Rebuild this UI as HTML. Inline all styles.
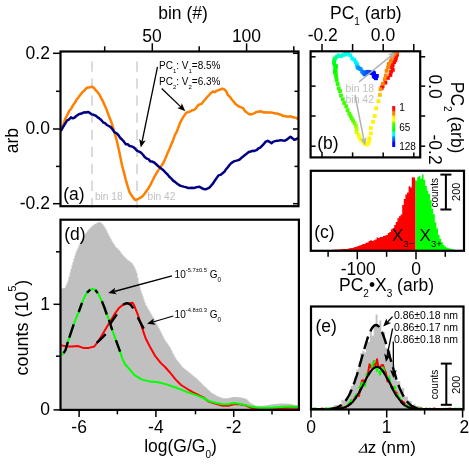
<!DOCTYPE html>
<html><head><meta charset="utf-8"><title>figure</title>
<style>html,body{margin:0;padding:0;background:#fff;}svg{display:block;will-change:transform;}</style>
</head><body>
<svg width="469" height="465" viewBox="0 0 469 465">
<rect x="0" y="0" width="469" height="465" fill="#ffffff"/>
<clipPath id="ca"><rect x="60.5" y="51.5" width="238.0" height="154.7"/></clipPath>
<line x1="92.0" y1="61.5" x2="92.0" y2="212" stroke="#c8c8c8" stroke-width="1.3" stroke-dasharray="10.2 6.85"/>
<line x1="137.0" y1="61.5" x2="137.0" y2="212" stroke="#c8c8c8" stroke-width="1.3" stroke-dasharray="10.2 6.85"/>
<g clip-path="url(#ca)">
<polyline points="60.5,131.1 61.5,128.6 63.4,124.5 65.3,118.7 67.2,115.2 69.1,111.1 71.0,109.0 72.8,105.6 74.7,103.1 76.6,99.6 78.5,97.3 80.4,94.8 82.3,92.3 84.2,90.6 86.1,88.4 88.0,87.4 89.9,87.4 91.8,86.7 93.7,87.6 95.5,90.0 97.4,91.8 99.3,94.4 101.2,98.1 103.1,101.7 105.0,105.9 106.9,110.3 108.8,115.8 110.7,120.4 112.6,126.0 114.5,132.5 116.4,139.4 118.3,147.2 120.1,155.8 122.0,165.3 123.9,172.3 125.8,179.8 127.7,186.4 129.6,192.4 131.5,195.2 133.4,198.1 135.3,200.0 137.2,199.3 139.1,198.4 141.0,197.4 142.8,196.0 144.7,193.5 146.6,190.7 148.5,188.2 150.4,184.9 152.3,181.0 154.2,177.2 156.1,173.9 158.0,170.9 159.9,167.9 161.8,165.2 163.7,162.3 165.6,158.1 167.4,153.5 169.3,149.3 171.2,144.8 173.1,140.2 175.0,134.8 176.9,131.4 178.8,126.2 180.7,121.6 182.6,118.2 184.5,115.2 186.4,112.7 188.3,112.1 190.1,111.5 192.0,110.3 193.9,110.0 195.8,108.6 197.7,105.6 199.6,104.4 201.5,104.0 203.4,101.5 205.3,99.2 207.2,97.0 209.1,95.0 211.0,92.9 212.9,91.4 214.7,92.2 216.6,90.9 218.5,90.2 220.4,89.4 222.3,88.8 224.2,89.3 226.1,91.2 228.0,95.1 229.9,96.7 231.8,99.5 233.7,101.6 235.6,104.0 237.4,105.4 239.3,106.6 241.2,107.3 243.1,108.2 245.0,111.0 246.9,112.6 248.8,114.0 250.7,114.5 252.6,113.9 254.5,113.2 256.4,111.9 258.3,111.7 260.2,111.3 262.0,111.7 263.9,112.5 265.8,112.2 267.7,112.5 269.6,112.4 271.5,112.6 273.4,112.9 275.3,113.5 277.2,113.4 279.1,114.3 281.0,114.7 282.9,115.9 284.7,116.1 286.6,116.4 288.5,116.7 290.4,116.3 292.3,117.0 294.2,117.5 296.1,117.8 298.0,119.2 298.3,118.9" fill="none" stroke="#ff8000" stroke-width="2.5" stroke-linejoin="round"/>
<polyline points="60.5,130.9 61.5,129.9 63.4,126.5 65.3,123.4 67.2,120.4 69.1,119.4 71.0,117.4 72.8,118.3 74.7,117.5 76.6,115.8 78.5,114.4 80.4,113.8 82.3,113.2 84.2,112.3 86.1,112.5 88.0,112.0 89.9,112.9 91.8,114.4 93.7,114.8 95.5,115.6 97.4,117.1 99.3,118.4 101.2,120.0 103.1,122.3 105.0,123.2 106.9,125.0 108.8,126.0 110.7,127.1 112.6,129.4 114.5,132.4 116.4,133.2 118.3,135.0 120.1,137.8 122.0,139.5 123.9,141.6 125.8,144.3 127.7,144.3 129.6,146.0 131.5,146.4 133.4,147.2 135.3,148.8 137.2,150.8 139.1,151.7 141.0,152.6 142.8,154.5 144.7,157.1 146.6,158.6 148.5,159.1 150.4,161.5 152.3,161.6 154.2,162.5 156.1,164.2 158.0,166.0 159.9,167.5 161.8,169.0 163.7,170.5 165.6,172.6 167.4,174.3 169.3,176.7 171.2,178.4 173.1,180.6 175.0,181.9 176.9,183.5 178.8,184.8 180.7,185.9 182.6,186.4 184.5,186.9 186.4,187.3 188.3,188.1 190.1,188.0 192.0,187.7 193.9,188.1 195.8,187.3 197.7,187.1 199.6,186.8 201.5,188.0 203.4,188.9 205.3,189.2 207.2,188.7 209.1,187.9 211.0,185.8 212.9,183.6 214.7,180.8 216.6,178.1 218.5,175.4 220.4,174.9 222.3,173.5 224.2,171.9 226.1,169.3 228.0,167.0 229.9,164.4 231.8,162.8 233.7,161.4 235.6,160.9 237.4,160.4 239.3,159.8 241.2,158.1 243.1,156.6 245.0,154.9 246.9,153.5 248.8,152.0 250.7,151.5 252.6,150.8 254.5,150.9 256.4,150.2 258.3,148.5 260.2,147.7 262.0,145.8 263.9,143.8 265.8,141.6 267.7,140.8 269.6,141.8 271.5,143.2 273.4,141.6 275.3,141.1 277.2,140.7 279.1,140.5 281.0,140.1 282.9,140.5 284.7,140.7 286.6,139.8 288.5,138.2 290.4,136.8 292.3,138.1 294.2,139.7 296.1,139.2 298.0,138.0 298.3,138.1" fill="none" stroke="#000080" stroke-width="2.5" stroke-linejoin="round"/>
</g>
<rect x="60.5" y="51.5" width="238.0" height="154.7" fill="none" stroke="#000" stroke-width="2.2"/>
<line x1="53.0" y1="53.3" x2="60.5" y2="53.3" stroke="#000" stroke-width="1.5"/>
<line x1="293.0" y1="53.3" x2="298.5" y2="53.3" stroke="#000" stroke-width="1.5"/>
<line x1="56.0" y1="91.3" x2="60.5" y2="91.3" stroke="#000" stroke-width="1.5"/>
<line x1="294.5" y1="91.3" x2="298.5" y2="91.3" stroke="#000" stroke-width="1.5"/>
<line x1="53.0" y1="129" x2="60.5" y2="129" stroke="#000" stroke-width="1.5"/>
<line x1="293.0" y1="129" x2="298.5" y2="129" stroke="#000" stroke-width="1.5"/>
<line x1="56.0" y1="166.4" x2="60.5" y2="166.4" stroke="#000" stroke-width="1.5"/>
<line x1="294.5" y1="166.4" x2="298.5" y2="166.4" stroke="#000" stroke-width="1.5"/>
<line x1="53.0" y1="203.7" x2="60.5" y2="203.7" stroke="#000" stroke-width="1.5"/>
<line x1="293.0" y1="203.7" x2="298.5" y2="203.7" stroke="#000" stroke-width="1.5"/>
<line x1="104.7" y1="46.3" x2="104.7" y2="51.5" stroke="#000" stroke-width="1.5"/>
<line x1="152.3" y1="43.3" x2="152.3" y2="51.5" stroke="#000" stroke-width="1.5"/>
<line x1="199.2" y1="46.3" x2="199.2" y2="51.5" stroke="#000" stroke-width="1.5"/>
<line x1="246.6" y1="43.3" x2="246.6" y2="51.5" stroke="#000" stroke-width="1.5"/>
<line x1="293.8" y1="46.3" x2="293.8" y2="51.5" stroke="#000" stroke-width="1.5"/>
<text x="49.9" y="58.6" font-size="17.5" text-anchor="end" fill="#000" font-family="Liberation Sans, sans-serif" >0.2</text>
<text x="49.9" y="134.1" font-size="17.5" text-anchor="end" fill="#000" font-family="Liberation Sans, sans-serif" >0.0</text>
<text x="49.9" y="209" font-size="17.5" text-anchor="end" fill="#000" font-family="Liberation Sans, sans-serif" >-0.2</text>
<text x="152" y="41.5" font-size="17.5" text-anchor="middle" fill="#000" font-family="Liberation Sans, sans-serif" >50</text>
<text x="246.5" y="41.5" font-size="17.5" text-anchor="middle" fill="#000" font-family="Liberation Sans, sans-serif" >100</text>
<text x="183" y="18.7" font-size="17.5" text-anchor="middle" fill="#000" font-family="Liberation Sans, sans-serif" >bin (#)</text>
<text transform="translate(18.4,140.7) rotate(-90)" font-size="17.5" text-anchor="middle" font-family="Liberation Sans, sans-serif">arb</text>
<text x="63.3" y="199.6" font-size="17.5" text-anchor="start" fill="#000" font-family="Liberation Sans, sans-serif" >(a)</text>
<text x="94.9" y="199.6" font-size="10.2" text-anchor="start" fill="#c0c0c0" font-family="Liberation Sans, sans-serif" >bin 18</text>
<text x="147.6" y="199.6" font-size="10.2" text-anchor="start" fill="#c0c0c0" font-family="Liberation Sans, sans-serif" >bin 42</text>
<text x="159" y="69" font-size="10" text-anchor="start" fill="#000" font-family="Liberation Sans, sans-serif" >PC<tspan font-size="6" dy="4">1</tspan><tspan dy="-4" font-size="1">&#8203;</tspan>: V<tspan font-size="6" dy="4">1</tspan><tspan dy="-4" font-size="1">&#8203;</tspan>=8.5%</text>
<text x="159" y="85.1" font-size="10" text-anchor="start" fill="#000" font-family="Liberation Sans, sans-serif" >PC<tspan font-size="6" dy="4">2</tspan><tspan dy="-4" font-size="1">&#8203;</tspan>: V<tspan font-size="6" dy="4">2</tspan><tspan dy="-4" font-size="1">&#8203;</tspan>=6.3%</text>
<line x1="157.5" y1="66.9" x2="142.1" y2="141.5" stroke="#000" stroke-width="1.3"/>
<polygon points="140.8,147.6 139.2,139.1 142.1,141.5 145.7,140.4" fill="#000"/>
<line x1="161.7" y1="88.5" x2="180.8" y2="106.9" stroke="#000" stroke-width="1.3"/>
<polygon points="185.3,111.2 177.2,108.0 180.8,106.9 181.8,103.3" fill="#000"/>
<clipPath id="cb"><rect x="310.6" y="51.3" width="109.59999999999997" height="106.10000000000001"/></clipPath>
<g clip-path="url(#cb)">
<rect x="379.8" y="86.1" width="3.8" height="3.8" fill="#ff0000"/>
<rect x="380.7" y="84.1" width="3.8" height="3.8" fill="#ff0100"/>
<rect x="383.5" y="80.7" width="3.8" height="3.8" fill="#ff0200"/>
<rect x="386.0" y="76.0" width="3.8" height="3.8" fill="#ff0300"/>
<rect x="388.5" y="73.1" width="3.8" height="3.8" fill="#ff0400"/>
<rect x="389.2" y="69.8" width="3.8" height="3.8" fill="#ff0600"/>
<rect x="390.9" y="68.0" width="3.8" height="3.8" fill="#ff0700"/>
<rect x="390.1" y="65.2" width="3.8" height="3.8" fill="#ff0800"/>
<rect x="390.8" y="63.2" width="3.8" height="3.8" fill="#ff0900"/>
<rect x="392.2" y="60.3" width="3.8" height="3.8" fill="#ff0a00"/>
<rect x="393.4" y="58.4" width="3.8" height="3.8" fill="#ff0c00"/>
<rect x="393.9" y="56.3" width="3.8" height="3.8" fill="#ff0d00"/>
<rect x="394.3" y="54.3" width="3.8" height="3.8" fill="#ff0e00"/>
<rect x="395.1" y="52.9" width="3.8" height="3.8" fill="#ff0f00"/>
<rect x="394.9" y="51.1" width="3.8" height="3.8" fill="#ff1200"/>
<rect x="395.3" y="50.3" width="3.8" height="3.8" fill="#ff3a00"/>
<rect x="394.6" y="50.3" width="3.8" height="3.8" fill="#ff6200"/>
<rect x="393.4" y="49.7" width="3.8" height="3.8" fill="#ff7700"/>
<rect x="393.0" y="50.5" width="3.8" height="3.8" fill="#ff7900"/>
<rect x="392.4" y="52.4" width="3.8" height="3.8" fill="#ff7a00"/>
<rect x="391.1" y="53.9" width="3.8" height="3.8" fill="#ff7b00"/>
<rect x="390.1" y="56.0" width="3.8" height="3.8" fill="#ff7d00"/>
<rect x="388.8" y="59.1" width="3.8" height="3.8" fill="#ff7e00"/>
<rect x="386.9" y="62.0" width="3.8" height="3.8" fill="#ff8000"/>
<rect x="386.1" y="65.5" width="3.8" height="3.8" fill="#ff8100"/>
<rect x="384.7" y="69.0" width="3.8" height="3.8" fill="#ff8200"/>
<rect x="383.9" y="73.6" width="3.8" height="3.8" fill="#ff8400"/>
<rect x="382.9" y="77.4" width="3.8" height="3.8" fill="#ff8500"/>
<rect x="381.0" y="81.9" width="3.8" height="3.8" fill="#ff8700"/>
<rect x="378.6" y="87.3" width="3.8" height="3.8" fill="#ff9900"/>
<rect x="378.0" y="93.0" width="3.8" height="3.8" fill="#ffc100"/>
<rect x="376.5" y="99.3" width="3.8" height="3.8" fill="#ffe900"/>
<rect x="374.2" y="106.4" width="3.8" height="3.8" fill="#ffef00"/>
<rect x="372.8" y="114.2" width="3.8" height="3.8" fill="#fff100"/>
<rect x="371.1" y="119.9" width="3.8" height="3.8" fill="#fff200"/>
<rect x="368.9" y="126.1" width="3.8" height="3.8" fill="#fff400"/>
<rect x="368.9" y="131.5" width="3.8" height="3.8" fill="#fff500"/>
<rect x="367.5" y="136.4" width="3.8" height="3.8" fill="#fff700"/>
<rect x="367.2" y="138.7" width="3.8" height="3.8" fill="#fff900"/>
<rect x="366.5" y="141.0" width="3.8" height="3.8" fill="#fffa00"/>
<rect x="365.2" y="142.7" width="3.8" height="3.8" fill="#fffc00"/>
<rect x="363.5" y="142.1" width="3.8" height="3.8" fill="#fffd00"/>
<rect x="362.8" y="141.3" width="3.8" height="3.8" fill="#feff00"/>
<rect x="362.1" y="140.5" width="3.8" height="3.8" fill="#fcff00"/>
<rect x="360.5" y="139.4" width="3.8" height="3.8" fill="#fbff00"/>
<rect x="358.4" y="137.3" width="3.8" height="3.8" fill="#f9ff00"/>
<rect x="357.1" y="135.0" width="3.8" height="3.8" fill="#f8ff00"/>
<rect x="356.7" y="132.9" width="3.8" height="3.8" fill="#f6ff00"/>
<rect x="354.8" y="130.2" width="3.8" height="3.8" fill="#d6ff00"/>
<rect x="354.7" y="127.1" width="3.8" height="3.8" fill="#b6ff00"/>
<rect x="354.0" y="123.9" width="3.8" height="3.8" fill="#96ff00"/>
<rect x="352.6" y="121.2" width="3.8" height="3.8" fill="#77ff00"/>
<rect x="351.1" y="118.7" width="3.8" height="3.8" fill="#57ff00"/>
<rect x="349.8" y="116.3" width="3.8" height="3.8" fill="#51ff00"/>
<rect x="348.6" y="114.1" width="3.8" height="3.8" fill="#4cff00"/>
<rect x="347.4" y="111.7" width="3.8" height="3.8" fill="#48ff00"/>
<rect x="345.7" y="108.3" width="3.8" height="3.8" fill="#44ff00"/>
<rect x="344.3" y="104.5" width="3.8" height="3.8" fill="#40ff00"/>
<rect x="342.3" y="101.1" width="3.8" height="3.8" fill="#3cff00"/>
<rect x="340.9" y="97.3" width="3.8" height="3.8" fill="#38ff00"/>
<rect x="339.1" y="93.6" width="3.8" height="3.8" fill="#33ff00"/>
<rect x="338.1" y="89.2" width="3.8" height="3.8" fill="#2fff00"/>
<rect x="336.8" y="86.4" width="3.8" height="3.8" fill="#2bff00"/>
<rect x="335.8" y="82.1" width="3.8" height="3.8" fill="#27ff00"/>
<rect x="334.8" y="78.3" width="3.8" height="3.8" fill="#23ff00"/>
<rect x="334.4" y="75.6" width="3.8" height="3.8" fill="#1eff00"/>
<rect x="334.0" y="73.1" width="3.8" height="3.8" fill="#1aff00"/>
<rect x="333.7" y="71.0" width="3.8" height="3.8" fill="#16ff00"/>
<rect x="333.0" y="70.5" width="3.8" height="3.8" fill="#12ff00"/>
<rect x="333.1" y="70.1" width="3.8" height="3.8" fill="#0eff00"/>
<rect x="333.4" y="69.0" width="3.8" height="3.8" fill="#09ff00"/>
<rect x="333.0" y="68.8" width="3.8" height="3.8" fill="#05ff00"/>
<rect x="333.6" y="67.7" width="3.8" height="3.8" fill="#01ff00"/>
<rect x="333.8" y="65.2" width="3.8" height="3.8" fill="#00ff02"/>
<rect x="334.1" y="64.3" width="3.8" height="3.8" fill="#00ff06"/>
<rect x="333.1" y="63.9" width="3.8" height="3.8" fill="#00ff0a"/>
<rect x="332.3" y="61.9" width="3.8" height="3.8" fill="#00ff0f"/>
<rect x="332.1" y="59.9" width="3.8" height="3.8" fill="#00ff13"/>
<rect x="332.5" y="58.1" width="3.8" height="3.8" fill="#00ff2f"/>
<rect x="333.1" y="56.5" width="3.8" height="3.8" fill="#00ff62"/>
<rect x="334.9" y="54.8" width="3.8" height="3.8" fill="#00ff94"/>
<rect x="336.7" y="53.5" width="3.8" height="3.8" fill="#00ffc6"/>
<rect x="339.0" y="54.2" width="3.8" height="3.8" fill="#00ffd8"/>
<rect x="341.2" y="53.1" width="3.8" height="3.8" fill="#00ffde"/>
<rect x="343.4" y="52.6" width="3.8" height="3.8" fill="#00ffe3"/>
<rect x="343.8" y="51.9" width="3.8" height="3.8" fill="#00ffe9"/>
<rect x="344.9" y="51.4" width="3.8" height="3.8" fill="#00ffee"/>
<rect x="346.3" y="51.8" width="3.8" height="3.8" fill="#00fff4"/>
<rect x="348.4" y="53.4" width="3.8" height="3.8" fill="#00fff9"/>
<rect x="350.3" y="56.6" width="3.8" height="3.8" fill="#00feff"/>
<rect x="352.4" y="57.9" width="3.8" height="3.8" fill="#00f8ff"/>
<rect x="353.8" y="60.2" width="3.8" height="3.8" fill="#00f3ff"/>
<rect x="354.9" y="61.9" width="3.8" height="3.8" fill="#00edff"/>
<rect x="355.3" y="63.9" width="3.8" height="3.8" fill="#00e0ff"/>
<rect x="355.7" y="65.1" width="3.8" height="3.8" fill="#00beff"/>
<rect x="356.2" y="66.0" width="3.8" height="3.8" fill="#009dff"/>
<rect x="357.6" y="66.6" width="3.8" height="3.8" fill="#0090ff"/>
<rect x="358.8" y="67.3" width="3.8" height="3.8" fill="#008aff"/>
<rect x="360.2" y="69.6" width="3.8" height="3.8" fill="#0084ff"/>
<rect x="361.4" y="71.0" width="3.8" height="3.8" fill="#007dff"/>
<rect x="362.6" y="72.1" width="3.8" height="3.8" fill="#0077ff"/>
<rect x="363.0" y="72.5" width="3.8" height="3.8" fill="#0071ff"/>
<rect x="363.5" y="72.0" width="3.8" height="3.8" fill="#006bff"/>
<rect x="363.5" y="71.5" width="3.8" height="3.8" fill="#0065ff"/>
<rect x="364.0" y="70.3" width="3.8" height="3.8" fill="#005fff"/>
<rect x="365.5" y="70.2" width="3.8" height="3.8" fill="#0059ff"/>
<rect x="366.1" y="69.9" width="3.8" height="3.8" fill="#0053ff"/>
<rect x="367.6" y="70.2" width="3.8" height="3.8" fill="#004dff"/>
<rect x="369.3" y="70.9" width="3.8" height="3.8" fill="#0047ff"/>
<rect x="371.1" y="70.6" width="3.8" height="3.8" fill="#0041ff"/>
<rect x="371.7" y="70.9" width="3.8" height="3.8" fill="#002eff"/>
<rect x="370.9" y="70.8" width="3.8" height="3.8" fill="#0019ff"/>
<rect x="369.8" y="71.0" width="3.8" height="3.8" fill="#0008ff"/>
<rect x="371.1" y="71.2" width="3.8" height="3.8" fill="#0007ff"/>
<rect x="371.5" y="71.7" width="3.8" height="3.8" fill="#0007ff"/>
<rect x="371.8" y="71.6" width="3.8" height="3.8" fill="#0006ff"/>
<rect x="372.0" y="72.3" width="3.8" height="3.8" fill="#0006ff"/>
<rect x="372.3" y="72.7" width="3.8" height="3.8" fill="#0005ff"/>
<rect x="372.0" y="73.7" width="3.8" height="3.8" fill="#0005ff"/>
<rect x="371.8" y="73.8" width="3.8" height="3.8" fill="#0004ff"/>
<rect x="372.6" y="74.1" width="3.8" height="3.8" fill="#0003ff"/>
<rect x="373.9" y="74.3" width="3.8" height="3.8" fill="#0003ff"/>
<rect x="375.0" y="74.0" width="3.8" height="3.8" fill="#0002ff"/>
<rect x="373.9" y="74.5" width="3.8" height="3.8" fill="#0002ff"/>
<rect x="372.6" y="75.0" width="3.8" height="3.8" fill="#0001ff"/>
<rect x="373.0" y="75.2" width="3.8" height="3.8" fill="#0001ff"/>
<rect x="374.0" y="76.4" width="3.8" height="3.8" fill="#0000ff"/>
<rect x="374.0" y="76.2" width="3.8" height="3.8" fill="#0000ff"/>
</g>
<defs><linearGradient id="cbar" x1="0" y1="0" x2="0" y2="1">
<stop offset="0.0" stop-color="#ff0000"/>
<stop offset="0.02" stop-color="#ff0300"/>
<stop offset="0.04" stop-color="#ff0600"/>
<stop offset="0.06" stop-color="#ff0900"/>
<stop offset="0.08" stop-color="#ff0c00"/>
<stop offset="0.1" stop-color="#ff0f00"/>
<stop offset="0.12" stop-color="#ff4300"/>
<stop offset="0.14" stop-color="#ff7800"/>
<stop offset="0.16" stop-color="#ff7c00"/>
<stop offset="0.18" stop-color="#ff7f00"/>
<stop offset="0.2" stop-color="#ff8300"/>
<stop offset="0.22" stop-color="#ff8700"/>
<stop offset="0.24" stop-color="#ffd400"/>
<stop offset="0.26" stop-color="#fff100"/>
<stop offset="0.28" stop-color="#fff500"/>
<stop offset="0.3" stop-color="#fff900"/>
<stop offset="0.32" stop-color="#fffd00"/>
<stop offset="0.34" stop-color="#fcff00"/>
<stop offset="0.36" stop-color="#f8ff00"/>
<stop offset="0.38" stop-color="#ceff00"/>
<stop offset="0.4" stop-color="#7dff00"/>
<stop offset="0.42" stop-color="#4fff00"/>
<stop offset="0.44" stop-color="#45ff00"/>
<stop offset="0.46" stop-color="#3aff00"/>
<stop offset="0.48" stop-color="#2fff00"/>
<stop offset="0.5" stop-color="#25ff00"/>
<stop offset="0.52" stop-color="#1aff00"/>
<stop offset="0.54" stop-color="#0fff00"/>
<stop offset="0.56" stop-color="#05ff00"/>
<stop offset="0.58" stop-color="#00ff05"/>
<stop offset="0.6" stop-color="#00ff0f"/>
<stop offset="0.62" stop-color="#00ff55"/>
<stop offset="0.64" stop-color="#00ffd4"/>
<stop offset="0.66" stop-color="#00ffe2"/>
<stop offset="0.68" stop-color="#00fff0"/>
<stop offset="0.7" stop-color="#00ffff"/>
<stop offset="0.72" stop-color="#00f0ff"/>
<stop offset="0.74" stop-color="#00bfff"/>
<stop offset="0.76" stop-color="#008dff"/>
<stop offset="0.78" stop-color="#007dff"/>
<stop offset="0.8" stop-color="#006eff"/>
<stop offset="0.82" stop-color="#005eff"/>
<stop offset="0.84" stop-color="#004fff"/>
<stop offset="0.86" stop-color="#003fff"/>
<stop offset="0.88" stop-color="#0008ff"/>
<stop offset="0.9" stop-color="#0007ff"/>
<stop offset="0.92" stop-color="#0005ff"/>
<stop offset="0.94" stop-color="#0004ff"/>
<stop offset="0.96" stop-color="#0002ff"/>
<stop offset="0.98" stop-color="#0001ff"/>
<stop offset="1.0" stop-color="#0000ff"/>
</linearGradient></defs>
<rect x="392.2" y="106.1" width="3" height="40.9" fill="url(#cbar)"/>
<text x="399.2" y="110.5" font-size="10" text-anchor="start" fill="#000" font-family="Liberation Sans, sans-serif" >1</text>
<text x="399.2" y="130.9" font-size="10" text-anchor="start" fill="#000" font-family="Liberation Sans, sans-serif" >65</text>
<text x="399.2" y="150.4" font-size="10" text-anchor="start" fill="#000" font-family="Liberation Sans, sans-serif" >128</text>
<text x="345.6" y="92" font-size="10.4" text-anchor="start" fill="#c0c0c0" font-family="Liberation Sans, sans-serif" >bin 18</text>
<text x="345.6" y="102.9" font-size="10.4" text-anchor="start" fill="#c0c0c0" font-family="Liberation Sans, sans-serif" >bin 42</text>
<line x1="359.0" y1="82.0" x2="391.2" y2="55.7" stroke="#b2b2b2" stroke-width="1.5"/>
<polygon points="396.0,51.8 391.9,59.4 391.2,55.7 387.7,54.3" fill="#b2b2b2"/>
<line x1="355.0" y1="95.0" x2="363.8" y2="139.4" stroke="#b2b2b2" stroke-width="1.5"/>
<polygon points="365.0,145.5 360.2,138.3 363.8,139.4 366.7,137.0" fill="#b2b2b2"/>
<rect x="310.6" y="51.3" width="109.59999999999997" height="106.10000000000001" fill="none" stroke="#000" stroke-width="2.2"/>
<line x1="310.6" y1="56.8" x2="315.6" y2="56.8" stroke="#000" stroke-width="1.5"/>
<line x1="420.2" y1="56.8" x2="425.2" y2="56.8" stroke="#000" stroke-width="1.5"/>
<line x1="310.6" y1="86.1" x2="315.6" y2="86.1" stroke="#000" stroke-width="1.5"/>
<line x1="420.2" y1="86.1" x2="425.2" y2="86.1" stroke="#000" stroke-width="1.5"/>
<line x1="310.6" y1="116" x2="315.6" y2="116" stroke="#000" stroke-width="1.5"/>
<line x1="420.2" y1="116" x2="425.2" y2="116" stroke="#000" stroke-width="1.5"/>
<line x1="310.6" y1="146.2" x2="315.6" y2="146.2" stroke="#000" stroke-width="1.5"/>
<line x1="420.2" y1="146.2" x2="425.2" y2="146.2" stroke="#000" stroke-width="1.5"/>
<line x1="322" y1="44.0" x2="322" y2="51.3" stroke="#000" stroke-width="1.5"/>
<line x1="322" y1="152.4" x2="322" y2="157.4" stroke="#000" stroke-width="1.5"/>
<line x1="352.6" y1="44.0" x2="352.6" y2="51.3" stroke="#000" stroke-width="1.5"/>
<line x1="352.6" y1="152.4" x2="352.6" y2="157.4" stroke="#000" stroke-width="1.5"/>
<line x1="383.2" y1="44.0" x2="383.2" y2="51.3" stroke="#000" stroke-width="1.5"/>
<line x1="383.2" y1="152.4" x2="383.2" y2="157.4" stroke="#000" stroke-width="1.5"/>
<line x1="413.8" y1="44.0" x2="413.8" y2="51.3" stroke="#000" stroke-width="1.5"/>
<line x1="413.8" y1="152.4" x2="413.8" y2="157.4" stroke="#000" stroke-width="1.5"/>
<text x="337.8" y="41.2" font-size="17.5" text-anchor="end" fill="#000" font-family="Liberation Sans, sans-serif" >-0.2</text>
<text x="383" y="41.2" font-size="17.5" text-anchor="middle" fill="#000" font-family="Liberation Sans, sans-serif" >0.0</text>
<text x="330" y="18.5" font-size="17.5" text-anchor="start" fill="#000" font-family="Liberation Sans, sans-serif" >PC<tspan font-size="10" dy="6.3">1</tspan><tspan dy="-6.3" font-size="1">&#8203;</tspan> (arb)</text>
<text x="317.3" y="149" font-size="17.5" text-anchor="start" fill="#000" font-family="Liberation Sans, sans-serif" >(b)</text>
<text transform="translate(428.5,86.6) rotate(90)" font-size="17.5" text-anchor="middle" font-family="Liberation Sans, sans-serif">0.0</text>
<text transform="translate(428.5,149.6) rotate(90)" font-size="17.5" text-anchor="middle" font-family="Liberation Sans, sans-serif">-0.2</text>
<text transform="translate(450.5,117.6) rotate(90)" font-size="17.5" text-anchor="middle" font-family="Liberation Sans, sans-serif">PC<tspan font-size="10" dy="6.8">2</tspan><tspan dy="-6.8" font-size="1">&#8203;</tspan> (arb)</text>
<polygon points="312.6,250.8 312.6,250.8 314.2,250.8 314.2,250.7 315.8,250.7 315.8,250.6 317.4,250.6 317.4,250.5 319.0,250.5 319.0,250.4 320.6,250.4 320.6,250.4 322.2,250.4 322.2,250.3 323.8,250.3 323.8,250.1 325.4,250.1 325.4,250.1 327.0,250.1 327.0,250.0 328.6,250.0 328.6,249.9 330.2,249.9 330.2,249.9 331.8,249.9 331.8,249.7 333.4,249.7 333.4,249.7 335.0,249.7 335.0,249.6 336.6,249.6 336.6,249.6 338.2,249.6 338.2,249.5 339.8,249.5 339.8,249.3 341.4,249.3 341.4,249.3 343.0,249.3 343.0,249.1 344.6,249.1 344.6,248.9 346.2,248.9 346.2,248.9 347.8,248.9 347.8,248.5 349.4,248.5 349.4,248.3 351.0,248.3 351.0,248.1 352.6,248.1 352.6,247.8 354.2,247.8 354.2,247.0 355.8,247.0 355.8,246.8 357.4,246.8 357.4,246.1 359.0,246.1 359.0,245.4 360.6,245.4 360.6,244.9 362.2,244.9 362.2,244.1 363.8,244.1 363.8,244.1 365.4,244.1 365.4,242.8 367.0,242.8 367.0,242.5 368.6,242.5 368.6,240.9 370.2,240.9 370.2,240.2 371.8,240.2 371.8,240.9 373.4,240.9 373.4,240.3 375.0,240.3 375.0,239.6 376.6,239.6 376.6,237.5 378.2,237.5 378.2,237.9 379.8,237.9 379.8,236.9 381.4,236.9 381.4,237.0 383.0,237.0 383.0,235.9 384.6,235.9 384.6,235.6 386.2,235.6 386.2,235.0 387.8,235.0 387.8,233.1 389.4,233.1 389.4,231.9 391.0,231.9 391.0,229.2 392.6,229.2 392.6,227.9 394.2,227.9 394.2,224.9 395.8,224.9 395.8,222.1 397.4,222.1 397.4,218.2 399.0,218.2 399.0,216.3 400.6,216.3 400.6,214.4 402.2,214.4 402.2,204.9 403.8,204.9 403.8,199.0 405.4,199.0 405.4,194.5 407.0,194.5 407.0,192.4 408.6,192.4 408.6,186.2 410.2,186.2 410.2,187.5 411.8,187.5 411.8,177.3 413.4,177.3 413.4,177.6 415.0,177.6 415.0,180.3 415.6,180.3 415.6,250.8" fill="#ff0000"/>
<polygon points="415.6,250.8 415.6,180.5 417.2,180.5 417.2,177.0 418.8,177.0 418.8,175.9 420.4,175.9 420.4,178.8 422.0,178.8 422.0,174.4 423.6,174.4 423.6,180.0 425.2,180.0 425.2,186.1 426.8,186.1 426.8,190.8 428.4,190.8 428.4,194.1 430.0,194.1 430.0,200.3 431.6,200.3 431.6,209.0 433.2,209.0 433.2,214.3 434.8,214.3 434.8,222.6 436.4,222.6 436.4,228.4 438.0,228.4 438.0,234.8 439.6,234.8 439.6,239.0 441.2,239.0 441.2,242.3 442.8,242.3 442.8,245.0 444.4,245.0 444.4,246.4 446.0,246.4 446.0,247.6 447.6,247.6 447.6,248.2 449.2,248.2 449.2,248.6 450.8,248.6 450.8,249.2 452.4,249.2 452.4,249.5 454.0,249.5 454.0,249.7 455.6,249.7 455.6,249.9 457.2,249.9 457.2,250.2 458.8,250.2 458.8,250.4 460.4,250.4 460.4,250.5 462.0,250.5 462.0,250.6 463.6,250.6 463.6,250.7 464.0,250.7 464.0,250.8" fill="#00ff00"/>
<rect x="310.8" y="170.8" width="153.2" height="80.0" fill="none" stroke="#000" stroke-width="2.2"/>
<line x1="328.1" y1="250.8" x2="328.1" y2="256.8" stroke="#000" stroke-width="1.5"/>
<line x1="357.3" y1="250.8" x2="357.3" y2="259.3" stroke="#000" stroke-width="1.5"/>
<line x1="386.6" y1="250.8" x2="386.6" y2="256.8" stroke="#000" stroke-width="1.5"/>
<line x1="416" y1="250.8" x2="416" y2="259.3" stroke="#000" stroke-width="1.5"/>
<line x1="445.3" y1="250.8" x2="445.3" y2="256.8" stroke="#000" stroke-width="1.5"/>
<text x="358.2" y="274.6" font-size="17.5" text-anchor="middle" fill="#000" font-family="Liberation Sans, sans-serif" >-100</text>
<text x="416" y="274.6" font-size="17.5" text-anchor="middle" fill="#000" font-family="Liberation Sans, sans-serif" >0</text>
<text x="339" y="290.5" font-size="17.5" text-anchor="start" fill="#000" font-family="Liberation Sans, sans-serif" >PC<tspan font-size="10" dy="6.8">2</tspan><tspan dy="-6.8" font-size="1">&#8203;</tspan>&#8226;X<tspan font-size="10" dy="6.8">3</tspan><tspan dy="-6.8" font-size="1">&#8203;</tspan> (arb)</text>
<text x="314.2" y="237.5" font-size="17.5" text-anchor="start" fill="#000" font-family="Liberation Sans, sans-serif" >(c)</text>
<text x="392" y="240.5" font-size="17" text-anchor="start" fill="#000" font-family="Liberation Sans, sans-serif" >X<tspan font-size="9.5" dy="6.5">3&#8722;</tspan><tspan dy="-6.5" font-size="1">&#8203;</tspan></text>
<text x="419.6" y="240.5" font-size="17" text-anchor="start" fill="#000" font-family="Liberation Sans, sans-serif" >X<tspan font-size="9.5" dy="6.5">3+</tspan><tspan dy="-6.5" font-size="1">&#8203;</tspan></text>
<line x1="445.9" y1="174.6" x2="445.9" y2="209.5" stroke="#000" stroke-width="2"/>
<line x1="440.4" y1="174.6" x2="451.4" y2="174.6" stroke="#000" stroke-width="2"/>
<line x1="440.4" y1="209.5" x2="451.4" y2="209.5" stroke="#000" stroke-width="2"/>
<text transform="translate(438.4,192.8) rotate(-90)" font-size="10" text-anchor="middle" font-family="Liberation Sans, sans-serif">counts</text>
<text transform="translate(459.7,191.8) rotate(-90)" font-size="10.9" text-anchor="middle" font-family="Liberation Sans, sans-serif">200</text>
<clipPath id="cd"><rect x="60.5" y="219.7" width="238.39999999999998" height="190.2"/></clipPath>
<g clip-path="url(#cd)">
<polygon points="60.5,409.9 60.5,288.9 61.5,288.9 61.5,288.6 62.5,288.6 62.5,288.3 63.5,288.3 63.5,288.0 64.5,288.0 64.5,287.7 65.5,287.7 65.5,285.6 66.5,285.6 66.5,283.2 67.5,283.2 67.5,280.7 68.5,280.7 68.5,276.7 69.5,276.7 69.5,272.8 70.5,272.8 70.5,268.9 71.5,268.9 71.5,265.4 72.5,265.4 72.5,262.0 73.5,262.0 73.5,258.7 74.5,258.7 74.5,255.6 75.5,255.6 75.5,252.5 76.5,252.5 76.5,250.0 77.5,250.0 77.5,247.7 78.5,247.7 78.5,245.4 79.5,245.4 79.5,243.1 80.5,243.1 80.5,241.1 81.5,241.1 81.5,239.4 82.5,239.4 82.5,237.7 83.5,237.7 83.5,236.0 84.5,236.0 84.5,234.5 85.5,234.5 85.5,233.1 86.5,233.1 86.5,231.8 87.5,231.8 87.5,230.5 88.5,230.5 88.5,229.2 89.5,229.2 89.5,228.2 90.5,228.2 90.5,227.2 91.5,227.2 91.5,226.2 92.5,226.2 92.5,225.2 93.5,225.2 93.5,224.7 94.5,224.7 94.5,224.1 95.5,224.1 95.5,223.6 96.5,223.6 96.5,223.1 97.5,223.1 97.5,222.6 98.5,222.6 98.5,222.3 99.5,222.3 99.5,222.0 100.5,222.0 100.5,222.7 101.5,222.7 101.5,223.4 102.5,223.4 102.5,224.4 103.5,224.4 103.5,225.9 104.5,225.9 104.5,227.4 105.5,227.4 105.5,229.2 106.5,229.2 106.5,231.2 107.5,231.2 107.5,233.2 108.5,233.2 108.5,235.2 109.5,235.2 109.5,237.1 110.5,237.1 110.5,239.1 111.5,239.1 111.5,240.8 112.5,240.8 112.5,242.5 113.5,242.5 113.5,244.1 114.5,244.1 114.5,245.8 115.5,245.8 115.5,246.9 116.5,246.9 116.5,247.9 117.5,247.9 117.5,248.9 118.5,248.9 118.5,249.9 119.5,249.9 119.5,251.1 120.5,251.1 120.5,252.4 121.5,252.4 121.5,253.7 122.5,253.7 122.5,255.0 123.5,255.0 123.5,256.2 124.5,256.2 124.5,257.2 125.5,257.2 125.5,258.3 126.5,258.3 126.5,259.3 127.5,259.3 127.5,260.2 128.5,260.2 128.5,260.8 129.5,260.8 129.5,261.5 130.5,261.5 130.5,262.2 131.5,262.2 131.5,263.0 132.5,263.0 132.5,264.5 133.5,264.5 133.5,266.0 134.5,266.0 134.5,268.0 135.5,268.0 135.5,270.5 136.5,270.5 136.5,273.0 137.5,273.0 137.5,277.9 138.5,277.9 138.5,283.2 139.5,283.2 139.5,287.0 140.5,287.0 140.5,290.7 141.5,290.7 141.5,293.6 142.5,293.6 142.5,296.5 143.5,296.5 143.5,299.5 144.5,299.5 144.5,302.4 145.5,302.4 145.5,304.9 146.5,304.9 146.5,306.6 147.5,306.6 147.5,308.3 148.5,308.3 148.5,310.0 149.5,310.0 149.5,311.7 150.5,311.7 150.5,313.4 151.5,313.4 151.5,315.2 152.5,315.2 152.5,316.9 153.5,316.9 153.5,318.8 154.5,318.8 154.5,320.6 155.5,320.6 155.5,322.5 156.5,322.5 156.5,324.4 157.5,324.4 157.5,326.2 158.5,326.2 158.5,328.1 159.5,328.1 159.5,330.0 160.5,330.0 160.5,332.0 161.5,332.0 161.5,334.0 162.5,334.0 162.5,336.0 163.5,336.0 163.5,338.0 164.5,338.0 164.5,340.0 165.5,340.0 165.5,341.4 166.5,341.4 166.5,342.8 167.5,342.8 167.5,344.3 168.5,344.3 168.5,345.7 169.5,345.7 169.5,347.1 170.5,347.1 170.5,349.1 171.5,349.1 171.5,351.1 172.5,351.1 172.5,353.0 173.5,353.0 173.5,355.0 174.5,355.0 174.5,357.0 175.5,357.0 175.5,358.6 176.5,358.6 176.5,359.9 177.5,359.9 177.5,361.2 178.5,361.2 178.5,362.5 179.5,362.5 179.5,363.8 180.5,363.8 180.5,365.1 181.5,365.1 181.5,366.4 182.5,366.4 182.5,367.4 183.5,367.4 183.5,368.2 184.5,368.2 184.5,369.0 185.5,369.0 185.5,369.8 186.5,369.8 186.5,370.6 187.5,370.6 187.5,371.4 188.5,371.4 188.5,372.2 189.5,372.2 189.5,373.0 190.5,373.0 190.5,373.8 191.5,373.8 191.5,374.7 192.5,374.7 192.5,375.5 193.5,375.5 193.5,376.3 194.5,376.3 194.5,377.2 195.5,377.2 195.5,378.0 196.5,378.0 196.5,378.8 197.5,378.8 197.5,379.7 198.5,379.7 198.5,380.7 199.5,380.7 199.5,381.7 200.5,381.7 200.5,382.7 201.5,382.7 201.5,383.7 202.5,383.7 202.5,384.7 203.5,384.7 203.5,385.7 204.5,385.7 204.5,386.7 205.5,386.7 205.5,387.6 206.5,387.6 206.5,388.5 207.5,388.5 207.5,389.4 208.5,389.4 208.5,390.3 209.5,390.3 209.5,391.2 210.5,391.2 210.5,392.2 211.5,392.2 211.5,392.9 212.5,392.9 212.5,393.5 213.5,393.5 213.5,394.1 214.5,394.1 214.5,394.7 215.5,394.7 215.5,395.3 216.5,395.3 216.5,395.9 217.5,395.9 217.5,396.4 218.5,396.4 218.5,396.7 219.5,396.7 219.5,397.1 220.5,397.1 220.5,397.5 221.5,397.5 221.5,397.9 222.5,397.9 222.5,398.2 223.5,398.2 223.5,398.2 224.5,398.2 224.5,398.2 225.5,398.2 225.5,398.2 226.5,398.2 226.5,398.2 227.5,398.2 227.5,398.2 228.5,398.2 228.5,398.0 229.5,398.0 229.5,397.8 230.5,397.8 230.5,397.5 231.5,397.5 231.5,397.3 232.5,397.3 232.5,397.1 233.5,397.1 233.5,396.9 234.5,396.9 234.5,397.0 235.5,397.0 235.5,397.1 236.5,397.1 236.5,397.1 237.5,397.1 237.5,397.2 238.5,397.2 238.5,397.3 239.5,397.3 239.5,397.3 240.5,397.3 240.5,397.5 241.5,397.5 241.5,397.7 242.5,397.7 242.5,398.0 243.5,398.0 243.5,398.2 244.5,398.2 244.5,398.5 245.5,398.5 245.5,398.7 246.5,398.7 246.5,399.6 247.5,399.6 247.5,400.6 248.5,400.6 248.5,401.6 249.5,401.6 249.5,402.6 250.5,402.6 250.5,403.3 251.5,403.3 251.5,403.8 252.5,403.8 252.5,404.3 253.5,404.3 253.5,404.8 254.5,404.8 254.5,405.3 255.5,405.3 255.5,405.7 256.5,405.7 256.5,405.7 257.5,405.7 257.5,405.7 258.5,405.7 258.5,405.7 259.5,405.7 259.5,405.7 260.5,405.7 260.5,405.7 261.5,405.7 261.5,405.7 262.5,405.7 262.5,405.7 263.5,405.7 263.5,405.7 264.5,405.7 264.5,405.6 265.5,405.6 265.5,405.4 266.5,405.4 266.5,405.2 267.5,405.2 267.5,405.1 268.5,405.1 268.5,404.9 269.5,404.9 269.5,404.7 270.5,404.7 270.5,404.6 271.5,404.6 271.5,404.4 272.5,404.4 272.5,404.3 273.5,404.3 273.5,404.2 274.5,404.2 274.5,404.1 275.5,404.1 275.5,404.0 276.5,404.0 276.5,403.9 277.5,403.9 277.5,403.8 278.5,403.8 278.5,403.7 279.5,403.7 279.5,403.6 280.5,403.6 280.5,403.5 281.5,403.5 281.5,403.5 282.5,403.5 282.5,403.6 283.5,403.6 283.5,403.6 284.5,403.6 284.5,403.6 285.5,403.6 285.5,403.7 286.5,403.7 286.5,403.7 287.5,403.7 287.5,403.8 288.5,403.8 288.5,403.8 289.5,403.8 289.5,404.0 290.5,404.0 290.5,404.2 291.5,404.2 291.5,404.3 292.5,404.3 292.5,404.5 293.5,404.5 293.5,404.7 294.5,404.7 294.5,404.9 295.5,404.9 295.5,405.1 296.5,405.1 296.5,405.3 297.5,405.3 297.5,405.5 298.5,405.5 298.5,405.7 298.9,405.7 298.9,409.9" fill="#c0c0c0"/>
<polyline points="60.5,345.1 66.6,346.5 72.2,346.5 77.7,346.0 83.3,347.9 88.8,347.9 94.3,346.5 98.5,341.0 102.7,334.0 106.8,327.1 111.0,320.2 115.1,313.3 119.3,307.7 123.5,304.4 127.6,303.6 132.6,302.7 134.5,306.3 137.3,313.3 140.1,321.6 142.8,329.9 145.6,338.2 149.8,346.5 155.3,356.2 160.9,363.1 165.0,367.0 170.0,372.5 175.5,379.4 181.1,385.0 186.6,388.5 192.2,391.9 197.7,394.6 203.3,397.4 208.8,401.6 215.7,403.8 222.7,405.7 228.2,405.7 233.7,404.3 239.3,404.3 244.8,405.2 250.4,407.7 258.7,408.5 280.9,408.0 298.9,407.7" fill="none" stroke="#ff0000" stroke-width="2" stroke-linejoin="round"/>
<polyline points="60.5,354.5 63.0,354.2 65.5,350.0 67.9,341.8 69.3,337.6 71.2,331.8 73.7,324.4 76.2,317.8 78.7,312.0 82.0,302.9 84.5,297.1 87.0,292.6 90.3,289.6 92.8,289.0 95.3,290.0 97.7,292.9 101.9,301.2 104.4,307.5 106.8,314.5 108.5,318.6 109.6,322.0 112.6,331.0 115.9,340.1 120.1,351.7 122.6,359.2 124.8,364.0 129.0,368.7 134.5,375.2 141.5,379.4 149.8,381.6 158.1,382.2 166.4,384.4 174.7,387.2 180.0,389.1 186.6,391.9 194.9,394.6 203.3,398.0 208.8,401.0 215.7,403.0 222.7,404.3 228.2,404.3 233.7,403.0 239.3,403.8 244.8,404.9 250.4,406.6 258.7,407.7 269.8,407.7 280.9,407.1 289.2,406.6 298.9,407.1" fill="none" stroke="#00ff00" stroke-width="2" stroke-linejoin="round"/>
<polyline points="63.6,353.2 65.5,350.0 67.9,341.8" fill="none" stroke="#000" stroke-width="2.4"/>
<polyline points="69.3,337.6 71.2,331.8 73.7,324.4" fill="none" stroke="#000" stroke-width="2.4"/>
<polyline points="78.7,312.0 82.0,302.9" fill="none" stroke="#000" stroke-width="2.4"/>
<polyline points="87.0,292.6 90.3,289.6" fill="none" stroke="#000" stroke-width="2.4"/>
<polyline points="95.3,290.0 97.7,292.9" fill="none" stroke="#000" stroke-width="2.4"/>
<polyline points="101.9,301.2 104.4,307.5 106.8,314.5" fill="none" stroke="#000" stroke-width="2.4"/>
<polyline points="108.9,319.8 109.6,322.0 112.3,330.1" fill="none" stroke="#000" stroke-width="2.4"/>
<polyline points="115.9,340.1 120.1,351.7" fill="none" stroke="#000" stroke-width="2.4"/>
<polyline points="96.7,342.8 101.0,338.9 105.7,334.1" fill="none" stroke="#000" stroke-width="2.4"/>
<polyline points="110.1,324.1 113.5,319.0 116.9,314.4" fill="none" stroke="#000" stroke-width="2.4"/>
<polyline points="123.1,304.8 125.5,303.4 127.5,303.2 130.5,304.6 133.3,308.4" fill="none" stroke="#000" stroke-width="2.4"/>
<polyline points="137.8,317.4 140.7,323.0 143.7,328.6" fill="none" stroke="#000" stroke-width="2.4"/>
</g>
<rect x="60.5" y="219.7" width="238.39999999999998" height="190.2" fill="none" stroke="#000" stroke-width="2.2"/>
<line x1="56.0" y1="251.8" x2="60.5" y2="251.8" stroke="#000" stroke-width="1.5"/>
<line x1="53.5" y1="304.3" x2="60.5" y2="304.3" stroke="#000" stroke-width="1.5"/>
<line x1="56.0" y1="356.2" x2="60.5" y2="356.2" stroke="#000" stroke-width="1.5"/>
<line x1="53.5" y1="409.9" x2="60.5" y2="409.9" stroke="#000" stroke-width="1.5"/>
<line x1="79.1" y1="409.9" x2="79.1" y2="416.9" stroke="#000" stroke-width="1.5"/>
<line x1="117.4" y1="409.9" x2="117.4" y2="414.4" stroke="#000" stroke-width="1.5"/>
<line x1="155.9" y1="409.9" x2="155.9" y2="416.9" stroke="#000" stroke-width="1.5"/>
<line x1="195.5" y1="409.9" x2="195.5" y2="414.4" stroke="#000" stroke-width="1.5"/>
<line x1="233.7" y1="409.9" x2="233.7" y2="416.9" stroke="#000" stroke-width="1.5"/>
<line x1="272" y1="409.9" x2="272" y2="414.4" stroke="#000" stroke-width="1.5"/>
<text x="79.1" y="433.4" font-size="17.5" text-anchor="middle" fill="#000" font-family="Liberation Sans, sans-serif" >-6</text>
<text x="155.9" y="433.4" font-size="17.5" text-anchor="middle" fill="#000" font-family="Liberation Sans, sans-serif" >-4</text>
<text x="233.7" y="433.4" font-size="17.5" text-anchor="middle" fill="#000" font-family="Liberation Sans, sans-serif" >-2</text>
<text x="144.2" y="451.5" font-size="17.5" text-anchor="start" fill="#000" font-family="Liberation Sans, sans-serif" >log(G/G<tspan font-size="10" dy="6.8">0</tspan><tspan dy="-6.8" font-size="1">&#8203;</tspan>)</text>
<text x="49.9" y="309.8" font-size="17.5" text-anchor="end" fill="#000" font-family="Liberation Sans, sans-serif" >1</text>
<text x="49.9" y="415" font-size="17.5" text-anchor="end" fill="#000" font-family="Liberation Sans, sans-serif" >0</text>
<text transform="translate(27.8,327.6) rotate(-90)" font-size="18" text-anchor="middle" font-family="Liberation Sans, sans-serif">counts (10<tspan font-size="10.5" dy="-11.5">5</tspan><tspan dy="11.5" font-size="1">&#8203;</tspan>)</text>
<text x="64.2" y="239.8" font-size="17.5" text-anchor="start" fill="#000" font-family="Liberation Sans, sans-serif" >(d)</text>
<text x="174.6" y="277.7" font-size="10" text-anchor="start" fill="#000" font-family="Liberation Sans, sans-serif" >10<tspan font-size="5.8" dy="-5.6">-5.7&#177;0.5</tspan><tspan dy="5.6" font-size="1">&#8203;</tspan> G<tspan font-size="6.5" dy="3.8">0</tspan><tspan dy="-3.8" font-size="1">&#8203;</tspan></text>
<text x="174.6" y="317.9" font-size="10" text-anchor="start" fill="#000" font-family="Liberation Sans, sans-serif" >10<tspan font-size="5.8" dy="-5.6">-4.8&#177;0.3</tspan><tspan dy="5.6" font-size="1">&#8203;</tspan> G<tspan font-size="6.5" dy="3.8">0</tspan><tspan dy="-3.8" font-size="1">&#8203;</tspan></text>
<line x1="172.0" y1="275.8" x2="114.2" y2="291.5" stroke="#000" stroke-width="1.3"/>
<polygon points="108.2,293.1 115.1,287.8 114.2,291.5 116.8,294.2" fill="#000"/>
<line x1="173.3" y1="316.0" x2="152.9" y2="322.0" stroke="#000" stroke-width="1.3"/>
<polygon points="147.0,323.8 153.7,318.4 152.9,322.0 155.6,324.7" fill="#000"/>
<clipPath id="ce"><rect x="311" y="306.5" width="152.5" height="103.0"/></clipPath>
<g clip-path="url(#ce)">
<polygon points="311.0,409.5 311.0,409.2 312.9,409.2 312.9,408.3 314.8,408.3 314.8,407.9 316.7,407.9 316.7,408.8 318.6,408.8 318.6,409.2 320.5,409.2 320.5,408.4 322.4,408.4 322.4,408.0 324.3,408.0 324.3,407.5 326.2,407.5 326.2,409.0 328.1,409.0 328.1,408.9 330.0,408.9 330.0,407.1 331.9,407.1 331.9,406.8 333.8,406.8 333.8,405.2 335.7,405.2 335.7,404.9 337.6,404.9 337.6,405.1 339.5,405.1 339.5,404.1 341.4,404.1 341.4,399.7 343.3,399.7 343.3,400.6 345.2,400.6 345.2,399.1 347.1,399.1 347.1,397.0 349.0,397.0 349.0,390.5 350.9,390.5 350.9,386.1 352.8,386.1 352.8,382.8 354.7,382.8 354.7,376.5 356.6,376.5 356.6,369.5 358.5,369.5 358.5,361.6 360.4,361.6 360.4,353.3 362.3,353.3 362.3,350.7 364.2,350.7 364.2,352.6 366.1,352.6 366.1,336.4 368.0,336.4 368.0,342.1 369.9,342.1 369.9,331.7 371.8,331.7 371.8,335.7 373.7,335.7 373.7,326.0 375.6,326.0 375.6,314.6 377.5,314.6 377.5,325.2 379.4,325.2 379.4,320.5 381.3,320.5 381.3,332.0 383.2,332.0 383.2,331.9 385.1,331.9 385.1,347.8 387.0,347.8 387.0,348.5 388.9,348.5 388.9,350.4 390.8,350.4 390.8,360.1 392.7,360.1 392.7,364.5 394.6,364.5 394.6,371.7 396.5,371.7 396.5,381.1 398.4,381.1 398.4,381.3 400.3,381.3 400.3,389.9 402.2,389.9 402.2,388.0 404.1,388.0 404.1,396.4 406.0,396.4 406.0,396.8 407.9,396.8 407.9,400.6 409.8,400.6 409.8,401.1 411.7,401.1 411.7,404.9 413.6,404.9 413.6,404.1 415.5,404.1 415.5,406.3 417.4,406.3 417.4,405.7 419.3,405.7 419.3,406.8 421.2,406.8 421.2,407.6 423.1,407.6 423.1,408.5 425.0,408.5 425.0,407.6 426.9,407.6 426.9,408.0 428.8,408.0 428.8,407.4 430.7,407.4 430.7,408.6 432.6,408.6 432.6,408.1 434.5,408.1 434.5,408.2 436.4,408.2 436.4,408.3 438.3,408.3 438.3,408.4 440.2,408.4 440.2,408.4 442.1,408.4 442.1,408.9 444.0,408.9 444.0,409.1 445.9,409.1 445.9,408.7 447.8,408.7 447.8,408.1 449.7,408.1 449.7,407.6 451.6,407.6 451.6,407.9 453.5,407.9 453.5,407.9 455.4,407.9 455.4,408.0 457.3,408.0 457.3,408.1 459.2,408.1 459.2,408.4 461.1,408.4 461.1,408.0 463.0,408.0 463.0,407.6 463.5,407.6 463.5,409.5" fill="#c0c0c0"/>
<polyline points="311.0,409.0 312.5,409.1 314.0,408.7 315.5,409.0 317.0,408.9 318.5,408.9 320.0,409.2 321.5,408.6 323.0,408.7 324.5,409.0 326.0,408.8 327.5,408.9 329.0,409.1 330.5,408.9 332.0,408.8 333.5,408.5 335.0,408.5 336.5,408.6 338.0,407.9 339.5,408.5 341.0,407.5 342.5,406.8 344.0,407.2 345.5,407.7 347.0,406.3 348.5,404.3 350.0,402.8 351.5,400.1 353.0,401.8 354.5,398.5 356.0,395.3 357.5,394.3 359.0,396.1 360.5,386.9 362.0,380.5 363.5,380.3 365.0,382.0 366.5,377.9 368.0,373.4 369.5,364.3 371.0,367.4 372.5,367.1 374.0,361.3 375.5,365.5 377.0,359.2 378.5,367.4 380.0,367.6 381.5,365.3 383.0,365.0 384.5,369.6 386.0,373.2 387.5,381.6 389.0,381.5 390.5,384.2 392.0,386.9 393.5,387.4 395.0,392.1 396.5,392.5 398.0,396.2 399.5,399.0 401.0,400.2 402.5,401.5 404.0,402.4 405.5,405.0 407.0,405.7 408.5,407.4 410.0,405.9 411.5,406.6 413.0,408.0 414.5,408.4 416.0,408.9 417.5,408.5 419.0,408.6 420.5,408.2 422.0,408.8 423.5,409.1 425.0,409.4 426.5,408.7 428.0,408.9 429.5,409.2 431.0,409.0 432.5,409.2 434.0,408.5 435.5,408.8 437.0,408.9 438.5,409.0 440.0,409.3 441.5,409.0 443.0,409.2 444.5,408.9 446.0,409.3 447.5,409.1 449.0,408.8 450.5,408.8 452.0,409.2 453.5,409.2 455.0,408.9 456.5,408.9 458.0,409.1 459.5,409.1 461.0,409.1 462.5,409.2" fill="none" stroke="#ff0000" stroke-width="2" stroke-linejoin="round"/>
<polyline points="311.0,409.1 312.5,408.8 314.0,408.9 315.5,408.6 317.0,409.0 318.5,409.0 320.0,409.2 321.5,409.0 323.0,409.2 324.5,409.3 326.0,408.8 327.5,408.6 329.0,408.7 330.5,408.6 332.0,408.8 333.5,409.0 335.0,408.7 336.5,408.7 338.0,408.9 339.5,409.1 341.0,408.8 342.5,407.5 344.0,406.8 345.5,406.8 347.0,404.0 348.5,404.3 350.0,402.5 351.5,400.1 353.0,401.6 354.5,402.0 356.0,394.7 357.5,395.3 359.0,388.1 360.5,387.5 362.0,382.7 363.5,380.2 365.0,385.8 366.5,374.1 368.0,375.9 369.5,373.7 371.0,370.4 372.5,364.2 374.0,362.3 375.5,361.0 377.0,370.8 378.5,367.0 380.0,374.5 381.5,367.4 383.0,366.7 384.5,373.7 386.0,372.8 387.5,375.7 389.0,376.3 390.5,384.8 392.0,387.7 393.5,390.4 395.0,387.0 396.5,391.4 398.0,396.5 399.5,397.9 401.0,400.1 402.5,401.6 404.0,403.6 405.5,404.9 407.0,406.9 408.5,406.9 410.0,405.6 411.5,407.1 413.0,407.8 414.5,408.3 416.0,408.4 417.5,408.4 419.0,408.9 420.5,408.7 422.0,408.8 423.5,409.1 425.0,409.1 426.5,409.2 428.0,409.2 429.5,408.8 431.0,409.4 432.5,409.0 434.0,409.1 435.5,409.1 437.0,409.0 438.5,408.8 440.0,409.0 441.5,409.0 443.0,409.1 444.5,409.0 446.0,408.8 447.5,409.1 449.0,409.2 450.5,409.2 452.0,409.2 453.5,409.2 455.0,408.8 456.5,408.9 458.0,409.0 459.5,408.7 461.0,409.1 462.5,408.9" fill="none" stroke="#00ff00" stroke-width="2.2" stroke-dasharray="8 5" stroke-linejoin="round"/>
<polyline points="311.0,409.5 312.0,409.5 313.0,409.5 314.1,409.5 315.1,409.5 316.1,409.5 317.1,409.5 318.1,409.5 319.1,409.5 320.1,409.5 321.2,409.4 322.2,409.4 323.2,409.4 324.2,409.4 325.2,409.3 326.2,409.3 327.3,409.2 328.3,409.2 329.3,409.1 330.3,409.0 331.3,408.9 332.4,408.7 333.4,408.5 334.4,408.3 335.4,408.0 336.4,407.7 337.4,407.3 338.4,406.8 339.5,406.3 340.5,405.6 341.5,404.9 342.5,404.1 343.5,403.1 344.6,402.0 345.6,400.7 346.6,399.3 347.6,397.7 348.6,396.0 349.6,394.1 350.6,391.9 351.7,389.6 352.7,387.1 353.7,384.5 354.7,381.6 355.7,378.5 356.8,375.4 357.8,372.0 358.8,368.6 359.8,365.0 360.8,361.4 361.8,357.8 362.9,354.1 363.9,350.5 364.9,347.0 365.9,343.7 366.9,340.4 367.9,337.4 368.9,334.7 370.0,332.2 371.0,330.0 372.0,328.2 373.0,326.8 374.0,325.8 375.1,325.2 376.1,325.0 377.1,325.2 378.1,325.9 379.1,327.0 380.1,328.5 381.1,330.3 382.2,332.5 383.2,335.0 384.2,337.8 385.2,340.8 386.2,344.1 387.2,347.5 388.3,351.0 389.3,354.6 390.3,358.2 391.3,361.9 392.3,365.5 393.4,369.0 394.4,372.5 395.4,375.8 396.4,379.0 397.4,382.0 398.4,384.8 399.4,387.5 400.5,389.9 401.5,392.2 402.5,394.3 403.5,396.2 404.5,398.0 405.6,399.5 406.6,400.9 407.6,402.1 408.6,403.2 409.6,404.2 410.6,405.0 411.6,405.7 412.7,406.3 413.7,406.9 414.7,407.3 415.7,407.7 416.7,408.0 417.8,408.3 418.8,408.5 419.8,408.7 420.8,408.9 421.8,409.0 422.8,409.1 423.9,409.2 424.9,409.3 425.9,409.3 426.9,409.4 427.9,409.4 428.9,409.4 429.9,409.4 431.0,409.4 432.0,409.5 433.0,409.5 434.0,409.5 435.0,409.5 436.1,409.5 437.1,409.5 438.1,409.5 439.1,409.5 440.1,409.5 441.1,409.5 442.1,409.5 443.2,409.5 444.2,409.5 445.2,409.5 446.2,409.5 447.2,409.5 448.2,409.5 449.3,409.5 450.3,409.5 451.3,409.5 452.3,409.5 453.3,409.5 454.4,409.5 455.4,409.5 456.4,409.5 457.4,409.5 458.4,409.5 459.4,409.5 460.4,409.5 461.5,409.5 462.5,409.5 463.5,409.5" fill="none" stroke="#000" stroke-width="2.4" stroke-dasharray="13 5.5"/>
<polyline points="311.0,409.5 312.0,409.5 313.0,409.5 314.1,409.5 315.1,409.5 316.1,409.5 317.1,409.5 318.1,409.5 319.1,409.5 320.1,409.5 321.2,409.5 322.2,409.5 323.2,409.5 324.2,409.5 325.2,409.5 326.2,409.5 327.3,409.5 328.3,409.5 329.3,409.4 330.3,409.4 331.3,409.4 332.4,409.4 333.4,409.3 334.4,409.3 335.4,409.2 336.4,409.2 337.4,409.1 338.4,409.0 339.5,408.8 340.5,408.6 341.5,408.4 342.5,408.2 343.5,407.9 344.6,407.5 345.6,407.1 346.6,406.6 347.6,406.1 348.6,405.4 349.6,404.7 350.6,403.9 351.7,402.9 352.7,401.9 353.7,400.7 354.7,399.5 355.7,398.1 356.8,396.6 357.8,394.9 358.8,393.2 359.8,391.4 360.8,389.5 361.8,387.6 362.9,385.6 363.9,383.6 364.9,381.6 365.9,379.6 366.9,377.7 367.9,375.8 368.9,374.1 370.0,372.5 371.0,371.0 372.0,369.8 373.0,368.8 374.0,368.0 375.1,367.4 376.1,367.1 377.1,367.0 378.1,367.2 379.1,367.7 380.1,368.4 381.1,369.3 382.2,370.5 383.2,371.8 384.2,373.4 385.2,375.0 386.2,376.8 387.2,378.7 388.3,380.7 389.3,382.7 390.3,384.7 391.3,386.7 392.3,388.7 393.4,390.6 394.4,392.4 395.4,394.2 396.4,395.9 397.4,397.4 398.4,398.9 399.4,400.2 400.5,401.4 401.5,402.5 402.5,403.5 403.5,404.4 404.5,405.1 405.6,405.8 406.6,406.4 407.6,406.9 408.6,407.4 409.6,407.7 410.6,408.1 411.6,408.3 412.7,408.6 413.7,408.7 414.7,408.9 415.7,409.0 416.7,409.1 417.8,409.2 418.8,409.3 419.8,409.3 420.8,409.4 421.8,409.4 422.8,409.4 423.9,409.4 424.9,409.5 425.9,409.5 426.9,409.5 427.9,409.5 428.9,409.5 429.9,409.5 431.0,409.5 432.0,409.5 433.0,409.5 434.0,409.5 435.0,409.5 436.1,409.5 437.1,409.5 438.1,409.5 439.1,409.5 440.1,409.5 441.1,409.5 442.1,409.5 443.2,409.5 444.2,409.5 445.2,409.5 446.2,409.5 447.2,409.5 448.2,409.5 449.3,409.5 450.3,409.5 451.3,409.5 452.3,409.5 453.3,409.5 454.4,409.5 455.4,409.5 456.4,409.5 457.4,409.5 458.4,409.5 459.4,409.5 460.4,409.5 461.5,409.5 462.5,409.5 463.5,409.5" fill="none" stroke="#000" stroke-width="2" stroke-dasharray="13 5.5"/>
<polyline points="311.0,409.5 312.0,409.5 313.0,409.5 314.1,409.5 315.1,409.5 316.1,409.5 317.1,409.5 318.1,409.5 319.1,409.5 320.1,409.5 321.2,409.5 322.2,409.5 323.2,409.5 324.2,409.5 325.2,409.5 326.2,409.5 327.3,409.5 328.3,409.5 329.3,409.4 330.3,409.4 331.3,409.4 332.4,409.4 333.4,409.3 334.4,409.3 335.4,409.2 336.4,409.1 337.4,409.0 338.4,408.9 339.5,408.7 340.5,408.6 341.5,408.3 342.5,408.1 343.5,407.8 344.6,407.4 345.6,406.9 346.6,406.4 347.6,405.9 348.6,405.2 349.6,404.4 350.6,403.6 351.7,402.6 352.7,401.6 353.7,400.4 354.7,399.1 355.7,397.7 356.8,396.2 357.8,394.6 358.8,392.9 359.8,391.0 360.8,389.2 361.8,387.2 362.9,385.3 363.9,383.3 364.9,381.3 365.9,379.3 366.9,377.4 367.9,375.6 368.9,373.9 370.0,372.3 371.0,370.9 372.0,369.6 373.0,368.6 374.0,367.8 375.1,367.2 376.1,366.9 377.1,366.8 378.1,367.0 379.1,367.4 380.1,368.1 381.1,369.0 382.2,370.1 383.2,371.4 384.2,372.9 385.2,374.5 386.2,376.2 387.2,378.1 388.3,380.0 389.3,382.0 390.3,384.0 391.3,386.0 392.3,387.9 393.4,389.9 394.4,391.7 395.4,393.5 396.4,395.2 397.4,396.7 398.4,398.2 399.4,399.6 400.5,400.8 401.5,402.0 402.5,403.0 403.5,403.9 404.5,404.7 405.6,405.4 406.6,406.1 407.6,406.6 408.6,407.1 409.6,407.5 410.6,407.9 411.6,408.2 412.7,408.4 413.7,408.6 414.7,408.8 415.7,408.9 416.7,409.1 417.8,409.1 418.8,409.2 419.8,409.3 420.8,409.3 421.8,409.4 422.8,409.4 423.9,409.4 424.9,409.4 425.9,409.5 426.9,409.5 427.9,409.5 428.9,409.5 429.9,409.5 431.0,409.5 432.0,409.5 433.0,409.5 434.0,409.5 435.0,409.5 436.1,409.5 437.1,409.5 438.1,409.5 439.1,409.5 440.1,409.5 441.1,409.5 442.1,409.5 443.2,409.5 444.2,409.5 445.2,409.5 446.2,409.5 447.2,409.5 448.2,409.5 449.3,409.5 450.3,409.5 451.3,409.5 452.3,409.5 453.3,409.5 454.4,409.5 455.4,409.5 456.4,409.5 457.4,409.5 458.4,409.5 459.4,409.5 460.4,409.5 461.5,409.5 462.5,409.5 463.5,409.5" fill="none" stroke="#000" stroke-width="2" stroke-dasharray="13 5.5" stroke-dashoffset="7.5"/>
</g>
<rect x="311" y="306.5" width="152.5" height="103.0" fill="none" stroke="#000" stroke-width="2.2"/>
<line x1="311" y1="409.5" x2="311" y2="417.5" stroke="#000" stroke-width="1.5"/>
<line x1="348.8" y1="409.5" x2="348.8" y2="414.5" stroke="#000" stroke-width="1.5"/>
<line x1="386.7" y1="409.5" x2="386.7" y2="417.5" stroke="#000" stroke-width="1.5"/>
<line x1="424.6" y1="409.5" x2="424.6" y2="414.5" stroke="#000" stroke-width="1.5"/>
<line x1="462.6" y1="409.5" x2="462.6" y2="417.5" stroke="#000" stroke-width="1.5"/>
<text x="311" y="433.3" font-size="17.5" text-anchor="middle" fill="#000" font-family="Liberation Sans, sans-serif" >0</text>
<text x="386.7" y="433.3" font-size="17.5" text-anchor="middle" fill="#000" font-family="Liberation Sans, sans-serif" >1</text>
<text x="464.3" y="433.3" font-size="17.5" text-anchor="middle" fill="#000" font-family="Liberation Sans, sans-serif" >2</text>
<path d="M358.7,452.2 L366.5,452.2 L365.4,443.9 Z" fill="none" stroke="#000" stroke-width="0.9" stroke-linejoin="miter"/>
<line x1="366.6" y1="452.6" x2="365.5" y2="443.6" stroke="#000" stroke-width="1.5"/>
<text x="367.7" y="452.8" font-size="17" text-anchor="start" fill="#000" font-family="Liberation Sans, sans-serif" >z (nm)</text>
<text x="315.4" y="331.6" font-size="17.5" text-anchor="start" fill="#000" font-family="Liberation Sans, sans-serif" >(e)</text>
<text x="393.9" y="319.3" font-size="10.5" text-anchor="start" fill="#000" font-family="Liberation Sans, sans-serif" >0.86&#177;0.18 nm</text>
<text x="393.9" y="331.3" font-size="10.5" text-anchor="start" fill="#000" font-family="Liberation Sans, sans-serif" >0.86&#177;0.17 nm</text>
<text x="393.9" y="343.4" font-size="10.5" text-anchor="start" fill="#000" font-family="Liberation Sans, sans-serif" >0.86&#177;0.18 nm</text>
<line x1="392.6" y1="316.6" x2="387.5" y2="322.0" stroke="#000" stroke-width="1.3"/>
<polygon points="383.2,326.5 386.3,318.4 387.5,322.0 391.1,323.0" fill="#000"/>
<line x1="392.6" y1="328.5" x2="387.1" y2="355.9" stroke="#000" stroke-width="1.3"/>
<polygon points="385.9,362.0 384.2,353.5 387.1,355.9 390.7,354.8" fill="#000"/>
<line x1="393.3" y1="341.6" x2="393.4" y2="371.7" stroke="#000" stroke-width="1.3"/>
<polygon points="393.4,377.9 390.1,369.9 393.4,371.7 396.7,369.9" fill="#000"/>
<line x1="446.3" y1="363.6" x2="446.3" y2="404.8" stroke="#000" stroke-width="2"/>
<line x1="440.8" y1="363.6" x2="451.8" y2="363.6" stroke="#000" stroke-width="2"/>
<line x1="440.8" y1="404.8" x2="451.8" y2="404.8" stroke="#000" stroke-width="2"/>
<text transform="translate(438.4,384.5) rotate(-90)" font-size="10" text-anchor="middle" font-family="Liberation Sans, sans-serif">counts</text>
<text transform="translate(459.9,384.7) rotate(-90)" font-size="10.9" text-anchor="middle" font-family="Liberation Sans, sans-serif">200</text>
</svg>
</body></html>
